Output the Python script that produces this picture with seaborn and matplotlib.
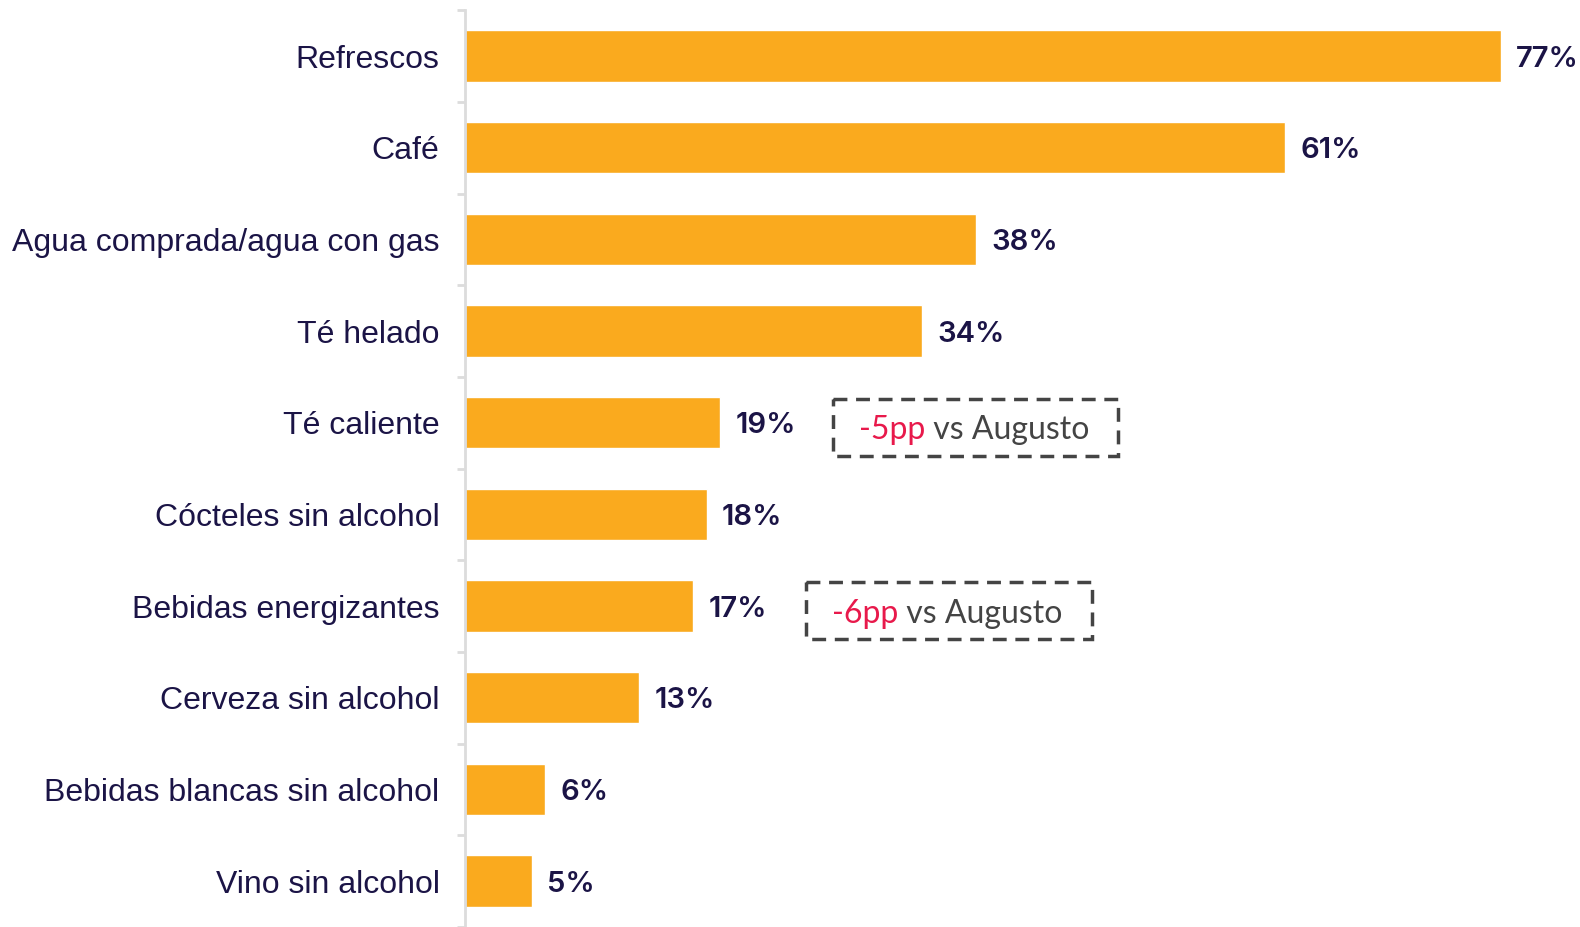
import matplotlib
matplotlib.use('Agg')
import matplotlib.pyplot as plt
from matplotlib.patches import Rectangle
from matplotlib.ticker import FixedLocator
import seaborn as sns
import pandas as pd

# Data
categories = ['Refrescos', 'Café', 'Agua comprada/agua con gas', 'Té helado',
              'Té caliente', 'Cócteles sin alcohol', 'Bebidas energizantes',
              'Cerveza sin alcohol', 'Bebidas blancas sin alcohol', 'Vino sin alcohol']
values = [77, 61, 38, 34, 19, 18, 17, 13, 6, 5]
notes_cat = ['Té caliente', 'Bebidas energizantes']
notes_change = ['-5pp', '-6pp']
notes_rest = ' vs Augusto'

df = pd.DataFrame({'cat': categories, 'val': values})

navy = '#1b1446'
orange = '#faaa1e'

sns.set_style('white')
plt.rcParams['font.family'] = ['Liberation Sans', 'DejaVu Sans']

fig = plt.figure(figsize=(15.8, 9.27), dpi=100)
ax = fig.add_axes([0.294, 0.0, 0.706, 0.989])

sns.barplot(data=df, y='cat', x='val', orient='h', color=orange,
            width=0.56, saturation=1, ax=ax)

ax.set_xlim(0, 82.9)
ax.set_ylim(len(categories) - 0.5, -0.5)
ax.set_xlabel('')
ax.set_ylabel('')
ax.set_xticks([])

for s in ['top', 'right', 'bottom']:
    ax.spines[s].set_visible(False)
ax.spines['left'].set_color('#dcdcdc')
ax.spines['left'].set_linewidth(2)

ax.tick_params(axis='y', which='major', left=False, length=0, pad=18,
               labelsize=23, labelcolor=navy)
ax.yaxis.set_minor_locator(FixedLocator([i - 0.5 for i in range(len(categories) + 1)]))
ax.tick_params(axis='y', which='minor', left=True, length=6, width=2,
               color='#dcdcdc')

for c in ax.containers:
    labels = ax.bar_label(c, labels=[f'{v}%' for v in values], padding=11,
                          fontsize=21, color=navy, fontweight='semibold')
    for t in labels:
        t.set_family(['Inter', 'DejaVu Sans'])
        t.set_va('center_baseline')

# dashed note boxes
for cat, chg in zip(notes_cat, notes_change):
    i = categories.index(cat)
    v = values[i]
    x0 = v + 8.4
    y0 = i + 0.05
    ax.add_patch(Rectangle((x0, y0 - 0.31), 21.2, 0.62, fill=False,
                           edgecolor='#444444', linewidth=2.5,
                           linestyle=(0, (4, 2.5)), clip_on=False))
    t1 = ax.text(x0 + 1.9, y0, chg, color='#e8194b', fontsize=23,
                 va='center_baseline', ha='left', family=['Lato', 'DejaVu Sans'])
    ax.annotate(notes_rest, xy=(1, 0), xycoords=t1, va='bottom', ha='left',
                color='#444444', fontsize=23, family=['Lato', 'DejaVu Sans'])

fig.savefig('out.png', dpi=100)
